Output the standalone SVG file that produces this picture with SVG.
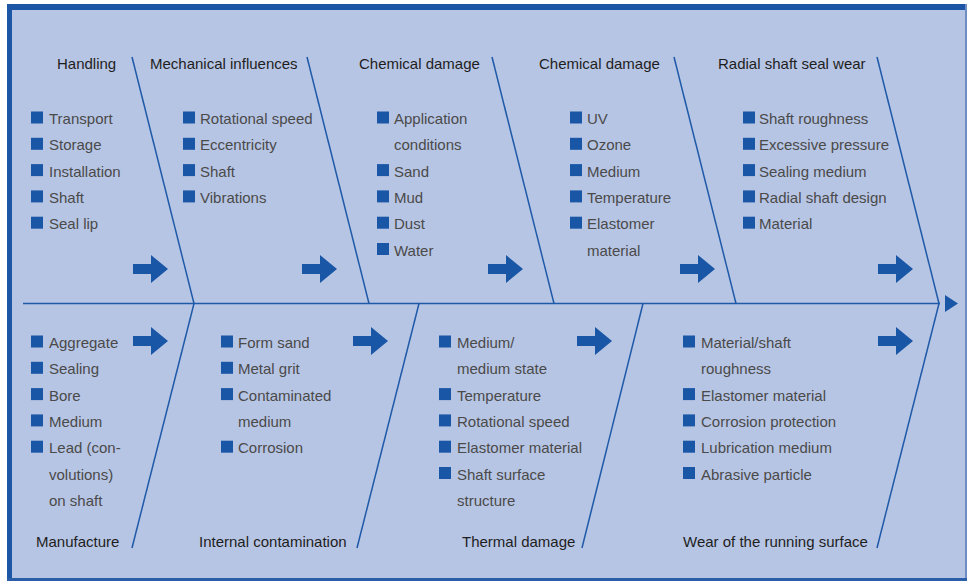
<svg xmlns="http://www.w3.org/2000/svg" xmlns:xlink="http://www.w3.org/1999/xlink" width="967" height="581" viewBox="0 0 967 581">
  <style>
    .bg { fill: #b7c5e4; }
    .bone { stroke: #1f5aa8; stroke-width: 1.5; fill: none; }
    .blk { fill: #1a56a6; }
    .h { font-family: "Liberation Sans", Arial, sans-serif; font-size: 15px; fill: #1e1e1e; }
    .t { font-family: "Liberation Sans", Arial, sans-serif; font-size: 15px; fill: #4a4a4a; }
    .sq { fill: #1a56a6; }
  </style>
  <defs>
    <path id="barrow" d="M0,-5 H18 V-14 L35,0 L18,14 V5 H0 Z"/>
    <rect id="bul" x="0" y="-12.5" width="12" height="12"/>
  </defs>

  <!-- frame -->
  <rect class="bg" x="7" y="4" width="960" height="577"/>
  <rect x="7" y="4" width="960" height="6" fill="#1c56a5"/>
  <rect x="7" y="4" width="5" height="577" fill="#1c56a5"/>
  <rect x="965" y="4" width="2" height="577" fill="#6f8dc2"/>
  <rect x="7" y="578" width="960" height="3" fill="#2a5ea8"/>

  <g id="connectors">
    <line class="bone" x1="23" y1="303.5" x2="940" y2="303.5"/>
    <polygon class="blk" points="945,295 958,303.5 945,312"/>
    <line class="bone" x1="132" y1="57" x2="194" y2="303.5"/>
    <line class="bone" x1="307" y1="57" x2="369" y2="303.5"/>
    <line class="bone" x1="492" y1="57" x2="554" y2="303.5"/>
    <line class="bone" x1="674" y1="57" x2="736" y2="303.5"/>
    <line class="bone" x1="877" y1="57" x2="939" y2="303.5"/>
    <line class="bone" x1="194" y1="303.5" x2="132" y2="548"/>
    <line class="bone" x1="419" y1="303.5" x2="357" y2="548"/>
    <line class="bone" x1="643" y1="303.5" x2="582" y2="548"/>
    <line class="bone" x1="939" y1="303.5" x2="877" y2="548"/>
    <g class="blk">
      <use xlink:href="#barrow" transform="translate(133,269)"/>
      <use xlink:href="#barrow" transform="translate(302,269)"/>
      <use xlink:href="#barrow" transform="translate(488,269)"/>
      <use xlink:href="#barrow" transform="translate(680,269)"/>
      <use xlink:href="#barrow" transform="translate(878,269)"/>
      <use xlink:href="#barrow" transform="translate(133,341)"/>
      <use xlink:href="#barrow" transform="translate(353,341)"/>
      <use xlink:href="#barrow" transform="translate(577,341)"/>
      <use xlink:href="#barrow" transform="translate(878,341)"/>
    </g>
  </g>

  <g id="handling">
    <text class="h" x="57" y="69">Handling</text>
    <g class="sq">
      <use xlink:href="#bul" x="31" y="124"/>
      <use xlink:href="#bul" x="31" y="150.3"/>
      <use xlink:href="#bul" x="31" y="176.6"/>
      <use xlink:href="#bul" x="31" y="202.9"/>
      <use xlink:href="#bul" x="31" y="229.2"/>
    </g>
    <text class="t" x="49" y="124">Transport</text>
    <text class="t" x="49" y="150.3">Storage</text>
    <text class="t" x="49" y="176.6">Installation</text>
    <text class="t" x="49" y="202.9">Shaft</text>
    <text class="t" x="49" y="229.2">Seal lip</text>
  </g>

  <g id="mechanical">
    <text class="h" x="150" y="69">Mechanical influences</text>
    <g class="sq">
      <use xlink:href="#bul" x="183" y="124"/>
      <use xlink:href="#bul" x="183" y="150.3"/>
      <use xlink:href="#bul" x="183" y="176.6"/>
      <use xlink:href="#bul" x="183" y="202.9"/>
    </g>
    <text class="t" x="200" y="124">Rotational speed</text>
    <text class="t" x="200" y="150.3">Eccentricity</text>
    <text class="t" x="200" y="176.6">Shaft</text>
    <text class="t" x="200" y="202.9">Vibrations</text>
  </g>

  <g id="chemical1">
    <text class="h" x="359" y="69">Chemical damage</text>
    <g class="sq">
      <use xlink:href="#bul" x="377" y="124"/>
      <use xlink:href="#bul" x="377" y="176.6"/>
      <use xlink:href="#bul" x="377" y="202.9"/>
      <use xlink:href="#bul" x="377" y="229.2"/>
      <use xlink:href="#bul" x="377" y="255.5"/>
    </g>
    <text class="t" x="394" y="124">Application</text>
    <text class="t" x="394" y="150.3">conditions</text>
    <text class="t" x="394" y="176.6">Sand</text>
    <text class="t" x="394" y="202.9">Mud</text>
    <text class="t" x="394" y="229.2">Dust</text>
    <text class="t" x="394" y="255.5">Water</text>
  </g>

  <g id="chemical2">
    <text class="h" x="539" y="69">Chemical damage</text>
    <g class="sq">
      <use xlink:href="#bul" x="570" y="124"/>
      <use xlink:href="#bul" x="570" y="150.3"/>
      <use xlink:href="#bul" x="570" y="176.6"/>
      <use xlink:href="#bul" x="570" y="202.9"/>
      <use xlink:href="#bul" x="570" y="229.2"/>
    </g>
    <text class="t" x="587" y="124">UV</text>
    <text class="t" x="587" y="150.3">Ozone</text>
    <text class="t" x="587" y="176.6">Medium</text>
    <text class="t" x="587" y="202.9">Temperature</text>
    <text class="t" x="587" y="229.2">Elastomer</text>
    <text class="t" x="587" y="255.5">material</text>
  </g>

  <g id="radial">
    <text class="h" x="718" y="69">Radial shaft seal wear</text>
    <g class="sq">
      <use xlink:href="#bul" x="743" y="124"/>
      <use xlink:href="#bul" x="743" y="150.3"/>
      <use xlink:href="#bul" x="743" y="176.6"/>
      <use xlink:href="#bul" x="743" y="202.9"/>
      <use xlink:href="#bul" x="743" y="229.2"/>
    </g>
    <text class="t" x="759" y="124">Shaft roughness</text>
    <text class="t" x="759" y="150.3">Excessive pressure</text>
    <text class="t" x="759" y="176.6">Sealing medium</text>
    <text class="t" x="759" y="202.9">Radial shaft design</text>
    <text class="t" x="759" y="229.2">Material</text>
  </g>

  <g id="manufacture">
    <g class="sq">
      <use xlink:href="#bul" x="31" y="348"/>
      <use xlink:href="#bul" x="31" y="374.3"/>
      <use xlink:href="#bul" x="31" y="400.6"/>
      <use xlink:href="#bul" x="31" y="426.9"/>
      <use xlink:href="#bul" x="31" y="453.2"/>
    </g>
    <text class="t" x="49" y="348">Aggregate</text>
    <text class="t" x="49" y="374.3">Sealing</text>
    <text class="t" x="49" y="400.6">Bore</text>
    <text class="t" x="49" y="426.9">Medium</text>
    <text class="t" x="49" y="453.2">Lead (con-</text>
    <text class="t" x="49" y="479.5">volutions)</text>
    <text class="t" x="49" y="505.8">on shaft</text>
    <text class="h" x="36" y="547">Manufacture</text>
  </g>

  <g id="internal">
    <g class="sq">
      <use xlink:href="#bul" x="221" y="348"/>
      <use xlink:href="#bul" x="221" y="374.3"/>
      <use xlink:href="#bul" x="221" y="400.6"/>
      <use xlink:href="#bul" x="221" y="453.2"/>
    </g>
    <text class="t" x="238" y="348">Form sand</text>
    <text class="t" x="238" y="374.3">Metal grit</text>
    <text class="t" x="238" y="400.6">Contaminated</text>
    <text class="t" x="238" y="426.9">medium</text>
    <text class="t" x="238" y="453.2">Corrosion</text>
    <text class="h" x="199" y="547">Internal contamination</text>
  </g>

  <g id="thermal">
    <g class="sq">
      <use xlink:href="#bul" x="439" y="348"/>
      <use xlink:href="#bul" x="439" y="400.6"/>
      <use xlink:href="#bul" x="439" y="426.9"/>
      <use xlink:href="#bul" x="439" y="453.2"/>
      <use xlink:href="#bul" x="439" y="479.5"/>
    </g>
    <text class="t" x="457" y="348">Medium/</text>
    <text class="t" x="457" y="374.3">medium state</text>
    <text class="t" x="457" y="400.6">Temperature</text>
    <text class="t" x="457" y="426.9">Rotational speed</text>
    <text class="t" x="457" y="453.2">Elastomer material</text>
    <text class="t" x="457" y="479.5">Shaft surface</text>
    <text class="t" x="457" y="505.8">structure</text>
    <text class="h" x="462" y="547">Thermal damage</text>
  </g>

  <g id="wear">
    <g class="sq">
      <use xlink:href="#bul" x="683" y="348"/>
      <use xlink:href="#bul" x="683" y="400.6"/>
      <use xlink:href="#bul" x="683" y="426.9"/>
      <use xlink:href="#bul" x="683" y="453.2"/>
      <use xlink:href="#bul" x="683" y="479.5"/>
    </g>
    <text class="t" x="701" y="348">Material/shaft</text>
    <text class="t" x="701" y="374.3">roughness</text>
    <text class="t" x="701" y="400.6">Elastomer material</text>
    <text class="t" x="701" y="426.9">Corrosion protection</text>
    <text class="t" x="701" y="453.2">Lubrication medium</text>
    <text class="t" x="701" y="479.5">Abrasive particle</text>
    <text class="h" x="683" y="547">Wear of the running surface</text>
  </g>
</svg>
